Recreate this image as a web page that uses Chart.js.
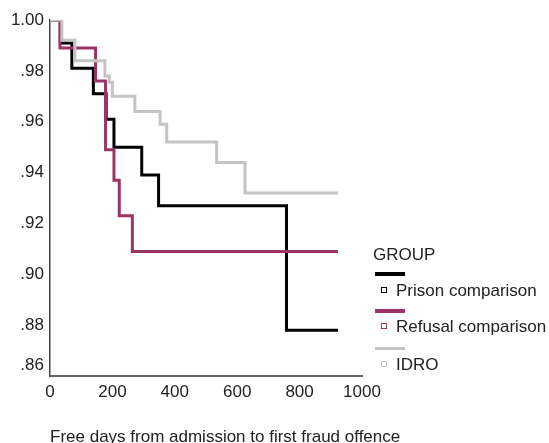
<!DOCTYPE html>
<html>
<head>
<meta charset="utf-8">
<script src="https://cdn.jsdelivr.net/npm/chart.js@4/dist/chart.umd.min.js"></script>
<style>
  body { margin: 0; background: #fff; }
  #wrap { position: relative; width: 549px; height: 443px; overflow: hidden; font-family: Arial, "Liberation Sans", sans-serif; color: #222; }
  #wrap canvas { position: absolute; left: 0; top: 0; }
  .lg { position: absolute; font-size: 17px; line-height: 18px; white-space: nowrap; }
  .ln { position: absolute; left: 375px; width: 30px; }
  .mk { position: absolute; left: 381px; width: 4px; height: 4px; border: 1.5px solid; background: #fff; }
  #xtitle { position: absolute; left: 50px; top: 427px; font-size: 17px; line-height: 20px; white-space: nowrap; }
</style>
</head>
<body>
<div id="wrap">
  <canvas id="mycanvas" width="549" height="443"></canvas>
  <div id="xtitle">Free days from admission to first fraud offence</div>

  <div class="lg" style="left:373px; top:246px;">GROUP</div>

  <div class="ln" style="top:272px; height:4px; background:#000;"></div>
  <div class="mk" style="top:287px; border-color:#000;"></div>
  <div class="lg" style="left:396px; top:282px;">Prison comparison</div>

  <div class="ln" style="top:309px; height:4px; background:#9b3465;"></div>
  <div class="mk" style="top:323px; border-color:#9b3465;"></div>
  <div class="lg" style="left:396px; top:318px;">Refusal comparison</div>

  <div class="ln" style="top:347px; height:3px; background:#c4c4c4;"></div>
  <div class="mk" style="top:361px; border-color:#c4c4c4;"></div>
  <div class="lg" style="left:396px; top:356px;">IDRO</div>
</div>

<script>
// survival estimates by days free since admission
var prisonDays = [0, 33, 70, 139, 180, 205, 294, 348, 758, 923];
var prisonSurv = [1.0, 0.991, 0.981, 0.971, 0.961, 0.950, 0.939, 0.927, 0.878, 0.878];

var refusalDays = [0, 32, 146, 178, 205, 222, 264, 923];
var refusalSurv = [1.0, 0.989, 0.976, 0.949, 0.937, 0.923, 0.909, 0.909];

var idroDays = [0, 38, 80, 176, 190, 200, 272, 353, 374, 534, 625, 923];
var idroSurv = [1.0, 0.992, 0.984, 0.978, 0.9755, 0.970, 0.964, 0.959, 0.952, 0.944, 0.932, 0.932];

var xTickLabels = ['0', '200', '400', '600', '800', '1000'];
var yTickLabels = ['.86', '.88', '.90', '.92', '.94', '.96', '.98', '1.00'];

function toPoints(days, surv) {
  var pts = [];
  for (var i in days) {
    pts.push({ x: days[i], y: surv[i] });
  }
  return pts;
}

function curve(label, days, surv, color, order) {
  return {
    label: label,
    data: toPoints(days, surv),
    borderColor: color,
    backgroundColor: color,
    borderWidth: 3,
    stepped: true,
    pointRadius: 0,
    fill: false,
    order: order
  };
}

var chartdata = {
  datasets: [
    curve('Prison comparison', prisonDays, prisonSurv, '#000000', 3),
    curve('Refusal comparison', refusalDays, refusalSurv, '#9b3465', 2),
    curve('IDRO', idroDays, idroSurv, '#c4c4c4', 1)
  ]
};

var font = { family: 'Arial, "Liberation Sans", sans-serif', size: 17 };

var ctx = document.getElementById('mycanvas');

var KMGraph = new Chart(ctx, {
  type: 'line',
  data: chartdata,
  options: {
    responsive: false,
    animation: false,
    layout: { padding: { top: 20, right: 187, left: 0, bottom: 0 } },
    plugins: { legend: { display: false }, tooltip: { enabled: false } },
    scales: {
      x: {
        type: 'linear',
        min: 0,
        max: 1000,
        grid: { display: false, drawTicks: false },
        border: { display: true, color: '#666', width: 2 },
        ticks: {
          stepSize: 200,
          padding: 6,
          color: '#222',
          font: font,
          maxRotation: 0,
          callback: function (v) { return xTickLabels[Math.round(v / 200)]; }
        },
        afterFit: function (scale) { scale.height = 67; }
      },
      y: {
        type: 'linear',
        min: 0.86,
        max: 1.0,
        grid: { display: false, drawTicks: false },
        border: { display: true, color: '#444', width: 1.5 },
        ticks: {
          stepSize: 0.02,
          padding: 6,
          color: '#222',
          font: font,
          callback: function (v) {
            var i = Math.round((v - 0.86) / 0.02);
            // bottom label sits a little above the axis corner
            return i === 0 ? [yTickLabels[i], ''] : yTickLabels[i];
          }
        },
        afterFit: function (scale) { scale.width = 50; }
      }
    }
  }
});
</script>
</body>
</html>
